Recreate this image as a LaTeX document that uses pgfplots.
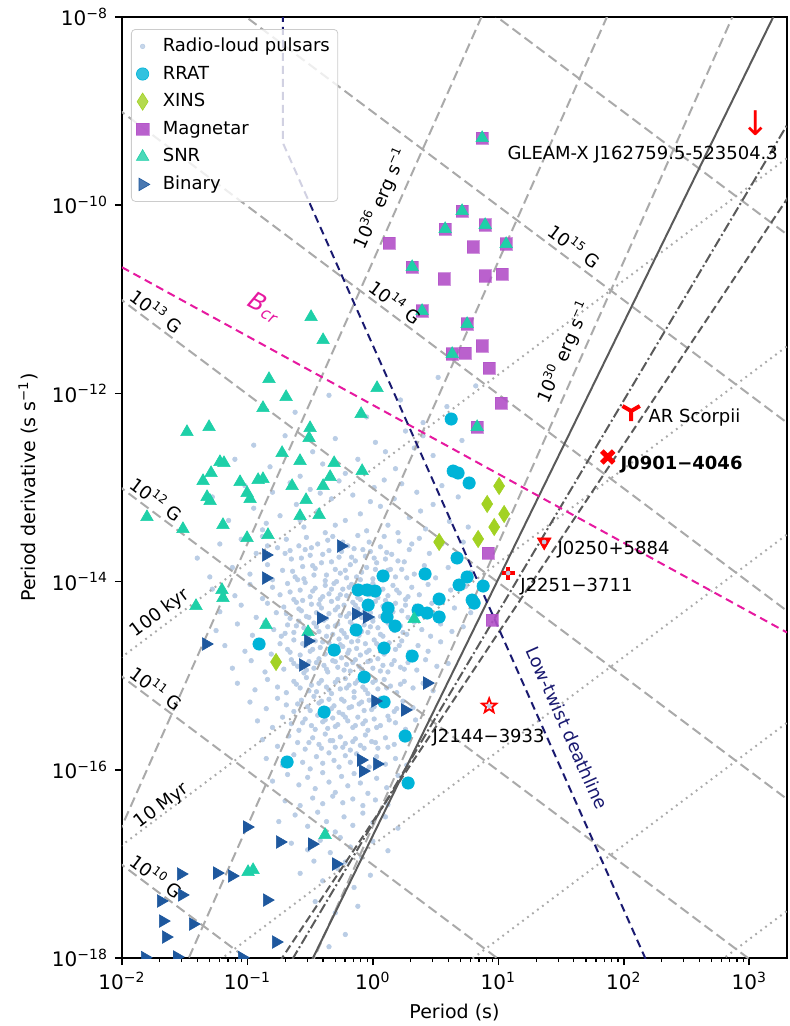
\documentclass[border=0pt]{standalone}
\usepackage{fontspec}
\setmainfont{DejaVu Sans}
\usepackage{pgfplots}
\pgfplotsset{compat=1.18}
\usepackage{pgfplotstable}
\usetikzlibrary{plotmarks,calc}

\definecolor{radio}{RGB}{186,205,229}
\definecolor{rrat}{RGB}{0,180,216}
\definecolor{xins}{RGB}{162,210,35}
\definecolor{magn}{RGB}{178,80,200}
\definecolor{snr}{RGB}{30,208,168}
\definecolor{bin}{RGB}{30,88,158}
\definecolor{lgray}{RGB}{170,170,170}
\definecolor{dgray}{RGB}{90,90,90}
\definecolor{bcr}{RGB}{230,25,160}
\definecolor{twist}{RGB}{25,25,112}
\definecolor{pred}{RGB}{255,0,0}

\pgfdeclareplotmark{star5}{%
  \pgfpathmoveto{\pgfqpointpolar{90}{\pgfplotmarksize}}%
  \pgfpathlineto{\pgfqpointpolar{126}{0.42\pgfplotmarksize}}%
  \pgfpathlineto{\pgfqpointpolar{162}{\pgfplotmarksize}}%
  \pgfpathlineto{\pgfqpointpolar{198}{0.42\pgfplotmarksize}}%
  \pgfpathlineto{\pgfqpointpolar{234}{\pgfplotmarksize}}%
  \pgfpathlineto{\pgfqpointpolar{270}{0.42\pgfplotmarksize}}%
  \pgfpathlineto{\pgfqpointpolar{306}{\pgfplotmarksize}}%
  \pgfpathlineto{\pgfqpointpolar{342}{0.42\pgfplotmarksize}}%
  \pgfpathlineto{\pgfqpointpolar{18}{\pgfplotmarksize}}%
  \pgfpathlineto{\pgfqpointpolar{54}{0.42\pgfplotmarksize}}%
  \pgfpathclose
  \pgfusepathqfillstroke
}

% log10(P)  log10(Pdot)
\pgfplotstableread[row sep=\\]{
lx ly\\
0.52 -11.83\\ 0.82 -11.92\\ 0.59 -12.14\\ 0.22 -12.07\\ 0.26 -12.40\\ -0.35 -12.02\\ -0.05 -12.25\\ 0.40 -12.31\\ -0.62 -12.20\\ 0.05 -11.95\\
-0.95 -12.55\\ -0.70 -12.45\\ -0.48 -12.62\\ -0.30 -12.48\\ -0.12 -12.70\\ 0.02 -12.52\\ 0.18 -12.80\\ 0.33 -12.58\\ 0.48 -12.66\\ 0.62 -12.85\\ -0.82 -12.78\\ -0.58 -12.88\\ -0.22 -12.85\\ 0.10 -12.62\\ 0.71 -12.50\\ -1.10 -12.70\\ 0.40 -12.45\\ -0.40 -12.75\\
-1.28 -13.10\\ -1.15 -13.35\\ -1.02 -12.98\\ -0.95 -13.22\\ -0.88 -13.45\\ -0.80 -13.05\\ -0.74 -13.30\\ -0.66 -12.95\\ -0.61 -13.18\\ -0.55 -13.42\\ -0.50 -13.02\\ -0.44 -13.25\\ -0.38 -13.48\\ -0.33 -13.12\\ -0.27 -12.93\\ -0.22 -13.35\\ -0.16 -13.08\\ -0.10 -13.28\\ -0.05 -13.46\\ 0.01 -13.00\\ 0.06 -13.20\\ 0.12 -13.40\\ 0.17 -13.12\\ 0.23 -12.96\\ 0.29 -13.32\\ 0.35 -13.05\\ 0.42 -13.44\\ 0.48 -13.18\\ 0.55 -12.98\\ 0.61 -13.36\\ 0.68 -13.10\\ 0.76 -13.42\\ -0.58 -13.35\\ -0.30 -13.40\\ -0.02 -13.15\\ 0.20 -13.48\\ -0.85 -13.38\\ -0.42 -13.06\\ 0.09 -12.92\\ 0.38 -13.25\\
-1.40 -13.75\\ -1.30 -13.95\\ -1.22 -13.60\\ -1.12 -13.85\\ -1.05 -13.55\\ -0.98 -13.92\\ -0.93 -13.70\\ -0.88 -13.52\\ -0.84 -13.82\\ -0.80 -13.98\\ -0.76 -13.64\\ -0.72 -13.88\\ -0.69 -13.55\\ -0.65 -13.76\\ -0.62 -13.95\\ -0.59 -13.62\\ -0.56 -13.84\\ -0.53 -13.53\\ -0.50 -13.72\\ -0.47 -13.93\\ -0.44 -13.60\\ -0.41 -13.80\\ -0.38 -13.99\\ -0.35 -13.67\\ -0.32 -13.52\\ -0.30 -13.87\\ -0.27 -13.74\\ -0.24 -13.58\\ -0.21 -13.96\\ -0.18 -13.82\\ -0.15 -13.65\\ -0.12 -13.51\\ -0.09 -13.90\\ -0.06 -13.73\\ -0.03 -13.58\\ 0.00 -13.97\\ 0.03 -13.80\\ 0.06 -13.63\\ 0.09 -13.52\\ 0.12 -13.88\\ 0.15 -13.71\\ 0.18 -13.95\\ 0.21 -13.57\\ 0.25 -13.79\\ 0.29 -13.66\\ 0.33 -13.92\\ 0.37 -13.54\\ 0.41 -13.83\\ 0.45 -13.70\\ 0.50 -13.96\\ 0.55 -13.60\\ 0.60 -13.85\\ 0.66 -13.73\\ 0.72 -13.58\\ 0.78 -13.90\\ -0.70 -13.70\\ -0.48 -13.83\\ -0.36 -13.56\\ -0.26 -13.91\\ -0.14 -13.78\\ -0.02 -13.68\\ 0.10 -13.76\\ 0.23 -13.87\\ -0.60 -13.98\\ -0.84 -13.62\\ -0.54 -13.66\\ -0.20 -13.62\\ 0.02 -13.87\\ 0.31 -13.60\\ -0.10 -13.98\\
-1.28 -14.08\\ -1.10 -14.15\\ -0.98 -14.03\\ -0.88 -14.18\\ -0.80 -14.06\\ -0.74 -14.14\\ -0.68 -14.02\\ -0.63 -14.19\\ -0.58 -14.09\\ -0.54 -14.01\\ -0.50 -14.16\\ -0.46 -14.07\\ -0.42 -14.19\\ -0.38 -14.04\\ -0.35 -14.13\\ -0.31 -14.02\\ -0.28 -14.18\\ -0.24 -14.08\\ -0.21 -14.15\\ -0.17 -14.03\\ -0.14 -14.11\\ -0.10 -14.19\\ -0.07 -14.05\\ -0.03 -14.14\\ 0.00 -14.02\\ 0.04 -14.17\\ 0.08 -14.08\\ 0.12 -14.15\\ 0.16 -14.04\\ 0.21 -14.12\\ 0.26 -14.19\\ 0.31 -14.06\\ 0.37 -14.14\\ 0.44 -14.03\\ 0.52 -14.17\\ 0.62 -14.09\\ 0.74 -14.05\\
-1.22 -14.32\\ -1.05 -14.25\\ -0.93 -14.38\\ -0.84 -14.23\\ -0.77 -14.33\\ -0.71 -14.27\\ -0.66 -14.39\\ -0.61 -14.22\\ -0.57 -14.31\\ -0.53 -14.37\\ -0.49 -14.24\\ -0.45 -14.33\\ -0.41 -14.28\\ -0.37 -14.39\\ -0.33 -14.21\\ -0.30 -14.30\\ -0.26 -14.36\\ -0.23 -14.25\\ -0.19 -14.34\\ -0.16 -14.22\\ -0.12 -14.29\\ -0.09 -14.38\\ -0.05 -14.26\\ -0.02 -14.33\\ 0.02 -14.21\\ 0.06 -14.37\\ 0.10 -14.28\\ 0.14 -14.35\\ 0.18 -14.23\\ 0.23 -14.31\\ 0.28 -14.38\\ 0.34 -14.26\\ 0.40 -14.34\\ 0.47 -14.23\\ 0.55 -14.36\\ 0.65 -14.28\\ 0.78 -14.33\\
-1.25 -14.52\\ -1.08 -14.45\\ -0.96 -14.57\\ -0.86 -14.43\\ -0.79 -14.51\\ -0.73 -14.58\\ -0.68 -14.46\\ -0.63 -14.54\\ -0.59 -14.42\\ -0.55 -14.49\\ -0.51 -14.57\\ -0.47 -14.44\\ -0.43 -14.53\\ -0.39 -14.41\\ -0.36 -14.48\\ -0.32 -14.56\\ -0.28 -14.45\\ -0.25 -14.52\\ -0.21 -14.59\\ -0.18 -14.43\\ -0.14 -14.50\\ -0.11 -14.57\\ -0.07 -14.46\\ -0.04 -14.54\\ 0.00 -14.42\\ 0.04 -14.49\\ 0.08 -14.58\\ 0.12 -14.44\\ 0.17 -14.52\\ 0.22 -14.47\\ 0.27 -14.56\\ 0.33 -14.43\\ 0.39 -14.51\\ 0.46 -14.58\\ 0.54 -14.45\\ 0.63 -14.53\\ 0.72 -14.48\\
-1.18 -14.68\\ -1.02 -14.74\\ -0.90 -14.63\\ -0.81 -14.77\\ -0.74 -14.66\\ -0.68 -14.72\\ -0.63 -14.62\\ -0.58 -14.78\\ -0.54 -14.68\\ -0.50 -14.74\\ -0.46 -14.63\\ -0.42 -14.70\\ -0.38 -14.77\\ -0.35 -14.65\\ -0.31 -14.73\\ -0.27 -14.61\\ -0.24 -14.69\\ -0.20 -14.76\\ -0.17 -14.64\\ -0.13 -14.71\\ -0.10 -14.78\\ -0.06 -14.66\\ -0.03 -14.73\\ 0.01 -14.62\\ 0.05 -14.69\\ 0.09 -14.77\\ 0.13 -14.65\\ 0.18 -14.72\\ 0.23 -14.63\\ 0.29 -14.75\\ 0.36 -14.68\\ 0.44 -14.74\\ 0.54 -14.64\\
-1.12 -14.92\\ -0.97 -14.84\\ -0.86 -14.96\\ -0.78 -14.86\\ -0.71 -14.93\\ -0.65 -14.83\\ -0.60 -14.90\\ -0.55 -14.97\\ -0.51 -14.85\\ -0.47 -14.92\\ -0.43 -14.82\\ -0.39 -14.89\\ -0.36 -14.96\\ -0.32 -14.84\\ -0.28 -14.91\\ -0.25 -14.81\\ -0.21 -14.88\\ -0.18 -14.95\\ -0.14 -14.83\\ -0.11 -14.90\\ -0.07 -14.97\\ -0.04 -14.85\\ 0.00 -14.92\\ 0.04 -14.82\\ 0.08 -14.89\\ 0.12 -14.96\\ 0.17 -14.84\\ 0.22 -14.91\\ 0.28 -14.86\\ 0.35 -14.94\\ 0.42 -14.83\\ 0.51 -14.90\\ 0.60 -14.87\\
-1.08 -15.08\\ -0.94 -15.15\\ -0.84 -15.04\\ -0.76 -15.12\\ -0.69 -15.18\\ -0.63 -15.06\\ -0.58 -15.13\\ -0.53 -15.02\\ -0.49 -15.10\\ -0.45 -15.17\\ -0.41 -15.05\\ -0.37 -15.12\\ -0.33 -15.19\\ -0.30 -15.07\\ -0.26 -15.14\\ -0.22 -15.03\\ -0.19 -15.10\\ -0.15 -15.17\\ -0.12 -15.05\\ -0.08 -15.12\\ -0.04 -15.19\\ 0.00 -15.07\\ 0.04 -15.14\\ 0.09 -15.04\\ 0.14 -15.11\\ 0.19 -15.18\\ 0.25 -15.06\\ 0.32 -15.13\\ 0.40 -15.08\\ 0.48 -15.16\\
-0.98 -15.28\\ -0.85 -15.35\\ -0.76 -15.24\\ -0.69 -15.31\\ -0.63 -15.38\\ -0.57 -15.26\\ -0.52 -15.33\\ -0.47 -15.22\\ -0.43 -15.29\\ -0.39 -15.36\\ -0.35 -15.25\\ -0.31 -15.32\\ -0.27 -15.39\\ -0.23 -15.27\\ -0.19 -15.34\\ -0.15 -15.23\\ -0.11 -15.30\\ -0.07 -15.37\\ -0.03 -15.26\\ 0.01 -15.33\\ 0.06 -15.24\\ 0.11 -15.31\\ 0.17 -15.38\\ 0.24 -15.27\\ 0.32 -15.34\\
-0.92 -15.48\\ -0.80 -15.55\\ -0.72 -15.44\\ -0.65 -15.51\\ -0.59 -15.58\\ -0.54 -15.46\\ -0.49 -15.53\\ -0.44 -15.42\\ -0.40 -15.49\\ -0.36 -15.56\\ -0.32 -15.45\\ -0.28 -15.52\\ -0.24 -15.41\\ -0.20 -15.48\\ -0.16 -15.55\\ -0.12 -15.44\\ -0.08 -15.51\\ -0.04 -15.58\\ 0.01 -15.46\\ 0.06 -15.53\\ 0.12 -15.43\\ 0.18 -15.50\\ 0.26 -15.57\\ 0.34 -15.47\\
-0.88 -15.68\\ -0.76 -15.75\\ -0.67 -15.64\\ -0.60 -15.71\\ -0.54 -15.78\\ -0.48 -15.66\\ -0.43 -15.73\\ -0.38 -15.62\\ -0.34 -15.69\\ -0.30 -15.76\\ -0.26 -15.65\\ -0.22 -15.72\\ -0.18 -15.79\\ -0.14 -15.67\\ -0.10 -15.74\\ -0.06 -15.63\\ -0.01 -15.70\\ 0.04 -15.77\\ 0.10 -15.66\\ 0.17 -15.73\\ 0.25 -15.68\\
-0.85 -15.88\\ -0.72 -15.95\\ -0.63 -15.84\\ -0.56 -15.92\\ -0.50 -15.99\\ -0.45 -15.86\\ -0.40 -15.93\\ -0.35 -15.82\\ -0.31 -15.90\\ -0.27 -15.97\\ -0.22 -15.85\\ -0.18 -15.92\\ -0.13 -15.83\\ -0.08 -15.90\\ -0.03 -15.97\\ 0.03 -15.86\\ 0.10 -15.94\\ 0.18 -15.88\\ 0.27 -15.95\\
-0.80 -16.12\\ -0.68 -16.05\\ -0.59 -16.16\\ -0.52 -16.08\\ -0.46 -16.20\\ -0.40 -16.03\\ -0.35 -16.13\\ -0.30 -16.24\\ -0.25 -16.07\\ -0.20 -16.17\\ -0.15 -16.04\\ -0.10 -16.14\\ -0.04 -16.25\\ 0.03 -16.09\\ 0.11 -16.19\\ 0.20 -16.06\\
-0.70 -16.33\\ -0.58 -16.38\\ -0.48 -16.30\\ -0.40 -16.36\\ -0.32 -16.28\\ -0.24 -16.35\\ -0.16 -16.31\\ -0.08 -16.38\\ 0.02 -16.32\\ 0.12 -16.37\\
-0.75 -16.55\\ -0.62 -16.48\\ -0.52 -16.60\\ -0.44 -16.45\\ -0.37 -16.55\\ -0.30 -16.66\\ -0.23 -16.50\\ -0.16 -16.59\\ -0.08 -16.46\\ 0.00 -16.56\\ 0.10 -16.50\\ 0.20 -16.62\\
-0.65 -16.78\\ -0.52 -16.85\\ -0.42 -16.75\\ -0.34 -16.88\\ -0.26 -16.72\\ -0.18 -16.82\\ -0.09 -16.93\\ 0.00 -16.76\\ 0.12 -16.86\\ -0.47 -16.97\\ -0.22 -16.98\\
-0.58 -17.10\\ -0.40 -17.18\\ -0.28 -17.05\\ -0.15 -17.25\\ -0.02 -17.12\\ -0.46 -17.40\\ -0.30 -17.52\\ -0.12 -17.45\\ -0.22 -17.75\\ -0.35 -17.88\\
-0.66 -13.67\\ -0.57 -13.75\\ -0.49 -13.64\\ -0.40 -13.71\\ -0.33 -13.79\\ -0.25 -13.68\\ -0.17 -13.74\\ -0.08 -13.66\\ 0.01 -13.75\\ 0.11 -13.69\\ 0.20 -13.78\\
-0.64 -13.89\\ -0.55 -13.97\\ -0.46 -13.86\\ -0.37 -13.93\\ -0.29 -14.00\\ -0.22 -13.88\\ -0.13 -13.95\\ -0.05 -13.85\\ 0.05 -13.94\\ 0.14 -13.87\\ 0.27 -13.96\\
-0.66 -14.11\\ -0.56 -14.20\\ -0.48 -14.10\\ -0.40 -14.16\\ -0.33 -14.08\\ -0.26 -14.14\\ -0.19 -14.06\\ -0.12 -14.17\\ -0.05 -14.09\\ 0.02 -14.12\\ 0.10 -14.20\\ 0.19 -14.09\\ 0.28 -14.16\\
-0.69 -14.34\\ -0.59 -14.29\\ -0.51 -14.38\\ -0.43 -14.24\\ -0.35 -14.34\\ -0.28 -14.27\\ -0.21 -14.37\\ -0.14 -14.25\\ -0.07 -14.32\\ 0.00 -14.39\\ 0.08 -14.26\\ 0.16 -14.32\\ 0.26 -14.25\\
-0.70 -14.55\\ -0.61 -14.47\\ -0.53 -14.54\\ -0.45 -14.48\\ -0.37 -14.58\\ -0.30 -14.47\\ -0.23 -14.55\\ -0.16 -14.46\\ -0.09 -14.53\\ -0.02 -14.48\\ 0.06 -14.56\\ 0.14 -14.47\\ 0.24 -14.54\\
-0.66 -14.75\\ -0.56 -14.66\\ -0.48 -14.72\\ -0.40 -14.64\\ -0.33 -14.76\\ -0.26 -14.67\\ -0.19 -14.73\\ -0.12 -14.63\\ -0.05 -14.75\\ 0.03 -14.66\\ 0.11 -14.73\\ 0.21 -14.68\\
-0.63 -14.87\\ -0.53 -14.94\\ -0.45 -14.86\\ -0.37 -14.93\\ -0.30 -14.85\\ -0.23 -14.94\\ -0.16 -14.86\\ -0.09 -14.93\\ -0.02 -14.84\\ 0.06 -14.95\\ 0.15 -14.88\\ 0.25 -14.93\\
-0.61 -15.09\\ -0.51 -15.16\\ -0.43 -15.08\\ -0.35 -15.15\\ -0.28 -15.04\\ -0.21 -15.13\\ -0.14 -15.08\\ -0.06 -15.15\\ 0.02 -15.05\\ 0.11 -15.13\\ 0.22 -15.09\\
-0.60 -15.30\\ -0.50 -15.37\\ -0.41 -15.27\\ -0.33 -15.35\\ -0.25 -15.25\\ -0.17 -15.33\\ -0.09 -15.28\\ -0.01 -15.36\\ 0.08 -15.29\\ 0.19 -15.35\\
-0.56 -15.50\\ -0.46 -15.57\\ -0.38 -15.47\\ -0.30 -15.54\\ -0.22 -15.44\\ -0.14 -15.53\\ -0.06 -15.48\\ 0.03 -15.55\\ 0.13 -15.47\\
-0.51 -15.71\\ -0.41 -15.77\\ -0.32 -15.69\\ -0.24 -15.76\\ -0.16 -15.70\\ -0.07 -15.77\\ 0.02 -15.71\\ 0.12 -15.76\\
}\radiotab

\pgfplotstableread[row sep=\\]{
lx ly\\
0.624 -12.272\\ 0.640 -12.825\\ 0.679 -12.846\\ 0.767 -12.952\\ 0.671 -13.749\\ 0.416 -13.919\\ 0.751 -13.951\\ 0.687 -14.036\\ 0.879 -14.047\\ -0.118 -14.089\\ -0.046 -14.089\\ 0.018 -14.100\\ 0.081 -13.940\\ -0.038 -14.249\\ 0.121 -14.281\\ 0.113 -14.376\\ 0.360 -14.302\\ 0.432 -14.334\\ 0.528 -14.185\\ 0.528 -14.376\\ 0.791 -14.196\\ 0.807 -14.228\\ 0.177 -14.472\\ -0.134 -14.514\\ -0.907 -14.663\\ -0.309 -14.727\\ 0.089 -14.706\\ 0.313 -14.791\\ -0.070 -15.014\\ 0.089 -15.279\\ -0.389 -15.386\\ 0.257 -15.641\\ -0.684 -15.917\\ 0.281 -16.140\\
}\rrattab

\pgfplotstableread[row sep=\\]{
lx ly\\
1.006 -12.984\\ 0.911 -13.175\\ 1.046 -13.282\\ 0.967 -13.420\\ 0.839 -13.547\\ 0.528 -13.579\\ -0.772 -14.854\\
}\xinstab

\pgfplotstableread[row sep=\\]{
lx ly\\
0.871 -9.286\\ 0.711 -10.062\\ 0.576 -10.253\\ 0.895 -10.210\\ 1.062 -10.412\\ 0.129 -10.402\\ 0.799 -10.444\\ 0.313 -10.657\\ 0.568 -10.784\\ 0.895 -10.752\\ 1.030 -10.731\\ 0.392 -11.124\\ 0.751 -11.262\\ 0.871 -11.496\\ 0.735 -11.571\\ 0.632 -11.581\\ 0.927 -11.730\\ 1.022 -12.102\\ 0.831 -12.357\\ 0.919 -13.696\\ 0.951 -14.408\\
}\magtab

\pgfplotstableread[row sep=\\]{
lx ly\\
-0.493 -11.188\\ -0.397 -11.433\\ -0.828 -11.847\\ -0.692 -12.038\\ 0.033 -11.943\\ -0.876 -12.155\\ -0.094 -12.219\\ -1.482 -12.410\\ -1.306 -12.357\\ -0.501 -12.368\\ -0.509 -12.474\\ -0.724 -12.633\\ -0.581 -12.718\\ -1.219 -12.729\\ -1.187 -12.740\\ -0.309 -12.740\\ -0.086 -12.825\\ -1.290 -12.846\\ -1.354 -12.931\\ -1.059 -12.942\\ -0.915 -12.920\\ -0.876 -12.910\\ -0.341 -12.888\\ -0.644 -12.984\\ -0.397 -12.984\\ -1.003 -13.058\\ -1.322 -13.101\\ -1.298 -13.143\\ -0.979 -13.122\\ -0.533 -13.133\\ -0.581 -13.303\\ -0.429 -13.292\\ -1.801 -13.314\\ -1.514 -13.441\\ -1.195 -13.398\\ -1.003 -13.537\\ -0.836 -13.505\\ -1.203 -14.089\\ -1.195 -14.174\\ -1.410 -14.259\\ -0.852 -14.461\\ -0.517 -14.536\\ 0.329 -14.397\\ -0.381 -16.693\\ -0.995 -17.086\\ -0.955 -17.065\\
0.871 -9.286\\ 0.711 -10.062\\ 0.576 -10.253\\ 0.895 -10.210\\ 1.062 -10.412\\ 0.313 -10.657\\ 0.392 -11.124\\ 0.751 -11.262\\ 0.632 -11.581\\ 0.831 -12.357\\
}\snrtab

\pgfplotstableread[row sep=\\]{
lx ly\\
-0.852 -13.717\\ -0.254 -13.622\\ -0.852 -13.962\\ -1.330 -14.663\\ -0.413 -14.387\\ -0.134 -14.344\\ -0.046 -14.376\\ -0.517 -14.631\\ -0.557 -14.886\\ 0.432 -15.078\\ 0.018 -15.269\\ 0.257 -15.364\\ -0.094 -15.896\\ 0.033 -15.938\\ -0.078 -16.013\\ -1.003 -16.608\\ -0.740 -16.767\\ -0.485 -16.789\\ -0.293 -17.001\\ -1.530 -17.107\\ -1.242 -17.097\\ -1.123 -17.128\\ -0.844 -17.384\\ -1.689 -17.394\\ -1.522 -17.330\\ -1.673 -17.607\\ -1.434 -17.639\\ -1.649 -17.777\\ -0.772 -17.830\\ -1.561 -17.989\\ -1.043 -17.995\\ -1.817 -17.995\\
}\bintab

\pgfplotstableread[row sep=\\]{
lx ly\\
1.365 -13.579\\ 1.078 -13.909\\ 0.927 -15.322\\
}\overtab

\pgfplotsset{
  bline/.style={color=lgray, line width=1pt, dash pattern=on 5pt off 2.5pt, forget plot},
  aline/.style={color=lgray, line width=1pt, dash pattern=on 0.9pt off 2.2pt, forget plot},
  table/logtab/.style={x expr={10^(\thisrow{lx})}, y expr={10^(\thisrow{ly})}},
}
\tikzset{lbl/.style={font=\fontsize{9}{10}\selectfont, inner sep=0pt}}

\begin{document}
\begin{tikzpicture}
\begin{axis}[
  xmode=log, ymode=log,
  scale only axis, width=332.5pt, height=470.5pt,
  xmin=1e-2, xmax=2e3, ymin=1e-18, ymax=1e-8,
  xtick={1e-2,1e-1,1,10,100,1000},
  xticklabels={10\textsuperscript{−2},10\textsuperscript{−1},10\textsuperscript{0},10\textsuperscript{1},10\textsuperscript{2},10\textsuperscript{3}},
  minor xtick={2e-2,3e-2,4e-2,5e-2,6e-2,7e-2,8e-2,9e-2,0.2,0.3,0.4,0.5,0.6,0.7,0.8,0.9,2,3,4,5,6,7,8,9,20,30,40,50,60,70,80,90,200,300,400,500,600,700,800,900},
  ytick={1e-18,1e-16,1e-14,1e-12,1e-10,1e-8},
  yticklabels={10\textsuperscript{−18},10\textsuperscript{−16},10\textsuperscript{−14},10\textsuperscript{−12},10\textsuperscript{−10},10\textsuperscript{−8}},
  minor ytick={},
  tick pos=left, tick align=outside,
  major tick length=3.5pt, minor tick length=2pt,
  every tick/.style={black, line width=0.75pt},
  every minor tick/.style={black, line width=0.6pt},
  axis line style={line width=1.25pt},
  ticklabel style={font=\fontsize{10}{12}\selectfont},
  label style={font=\fontsize{9.5}{11}\selectfont},
  xlabel={Period (s)},
  ylabel={Period derivative (s s\textsuperscript{−1})},
  clip marker paths=true,
  legend cell align=left,
  legend style={at={(0,1)}, anchor=north west, xshift=4.5pt, yshift=-6pt,
    draw={rgb,255:red,204;green,204;blue,204}, rounded corners=2pt,
    fill=white, fill opacity=0.8, text opacity=1, inner sep=2.5pt,
    column sep=5pt, row sep=1.8pt,
    font=\fontsize{9}{10}\selectfont,
    nodes={inner sep=1.5pt, text height=7pt, text depth=2pt}},
]
% radio-loud pulsars
\addplot[only marks, color=radio, mark=*, mark size=1.15pt, mark options={line width=0.3pt}] table[logtab] {\radiotab};
\addlegendentry{Radio-loud pulsars}

% B lines (B = 3.2e19 sqrt(P Pdot))
\addplot[bline] coordinates {(1e-3,9.766e-17) (1e4,9.766e-24)};
\addplot[bline] coordinates {(1e-3,9.766e-15) (1e4,9.766e-22)};
\addplot[bline] coordinates {(1e-3,9.766e-13) (1e4,9.766e-20)};
\addplot[bline] coordinates {(1e-3,9.766e-11) (1e4,9.766e-18)};
\addplot[bline] coordinates {(1e-3,9.766e-9) (1e4,9.766e-16)};
\addplot[bline] coordinates {(1e-3,9.766e-7) (1e4,9.766e-14)};
\addplot[bline] coordinates {(1e-3,9.766e-5) (1e4,9.766e-12)};
% Edot lines
\addplot[bline] coordinates {(1e-2,2.533e-23) (3000,6.84e-7)};
\addplot[bline] coordinates {(1e-2,2.533e-20) (3000,6.84e-4)};
\addplot[bline] coordinates {(1e-3,2.533e-20) (100,2.533e-5)};
% age lines
\addplot[aline] coordinates {(1e-3,1.584e-16) (1e4,1.584e-9)};
\addplot[aline] coordinates {(1e-3,1.584e-18) (1e4,1.584e-11)};
\addplot[aline] coordinates {(1e-3,1.584e-20) (1e4,1.584e-13)};
\addplot[aline] coordinates {(1e-3,1.584e-22) (1e4,1.584e-15)};
\addplot[aline] coordinates {(1e-3,1.584e-24) (1e4,1.584e-17)};
% death lines
\addplot[dgray, line width=1pt, forget plot] coordinates {(0.143,1e-19) (3614,1e-7)};
\addplot[dgray, line width=1pt, dash pattern=on 5pt off 1.5pt on 1pt off 1.5pt, forget plot] coordinates {(0.083,1e-19) (18070,1e-7)};
\addplot[dgray, line width=1pt, dash pattern=on 4pt off 2pt, forget plot] coordinates {(0.0598,1e-19) (58210,1e-7)};
% B_cr
\addplot[bcr, line width=1pt, dash pattern=on 4pt off 2.5pt, forget plot] coordinates {(0.01,2.19e-11) (2000,2.88e-15)};
% low-twist deathline
\addplot[twist, line width=1pt, dash pattern=on 4pt off 2.5pt, forget plot] coordinates {(0.192,1e-7) (0.192,4.57e-10) (319,1e-19)};

% populations
\addplot[only marks, color=rrat, mark=*, mark size=3.1pt, mark options={line width=0.3pt}] table[logtab] {\rrattab};
\addlegendentry{RRAT}
\addplot[only marks, color=xins, mark=diamond*, mark size=4.3pt, mark options={line width=0.3pt, xscale=0.85}] table[logtab] {\xinstab};
\addlegendentry{XINS}
\addplot[only marks, color=magn, mark=square*, mark size=3.1pt, mark options={line width=0.3pt, fill opacity=0.9, draw opacity=0.6}] table[logtab] {\magtab};
\addlegendentry{Magnetar}
\addplot[only marks, color=snr, mark=triangle*, mark size=3.6pt, mark options={line width=0.3pt}] table[logtab] {\snrtab};
\addlegendentry{SNR}
\addplot[only marks, color=bin, mark=triangle*, mark size=3.6pt, mark options={line width=0.3pt, rotate=-90}] table[logtab] {\bintab};
\addlegendentry{Binary}

% special objects
\addplot[only marks, color=pred, mark=text, text mark={\fontsize{17}{17}\selectfont ↓}, text mark as node=true, forget plot] coordinates {(1117,7.48e-10)};
\addplot[only marks, color=pred, mark=Mercedes star flipped, mark size=5pt, mark options={line width=2pt}, forget plot] coordinates {(114.5,6.5e-13)};
\addplot[only marks, color=pred, mark=x, mark size=4.2pt, mark options={line width=2.5pt}, forget plot] coordinates {(74.5,2.11e-13)};
\addplot[only marks, color=pred, mark=triangle*, mark size=4pt, mark options={rotate=180, line width=0.3pt}, forget plot] coordinates {(23.2,2.64e-14)};
\addplot[only marks, color=pred, mark=+, mark size=3.2pt, mark options={line width=2.2pt}, forget plot] coordinates {(11.97,1.23e-14)};
\addplot[only marks, color=pred, mark=star5, mark size=3.8pt, mark options={fill=white, line width=0.9pt}, forget plot] coordinates {(8.45,4.77e-16)};
\addplot[only marks, color=radio, mark=*, mark size=1.0pt, mark options={line width=0.3pt}, forget plot] table[logtab] {\overtab};

% line labels
\node[lbl, rotate=-36.9] at (axis cs:0.019,7.5e-12) {10\textsuperscript{13} G};
\node[lbl, rotate=-36.9] at (axis cs:0.019,7.55e-14) {10\textsuperscript{12} G};
\node[lbl, rotate=-36.9] at (axis cs:0.019,7.4e-16) {10\textsuperscript{11} G};
\node[lbl, rotate=-36.9] at (axis cs:0.019,7.43e-18) {10\textsuperscript{10} G};
\node[lbl, rotate=-36.9] at (axis cs:1.53,9.35e-12) {10\textsuperscript{14} G};
\node[lbl, rotate=-36.9] at (axis cs:40.9,3.68e-11) {10\textsuperscript{15} G};
\node[lbl, rotate=36.9] at (axis cs:0.0201,4.63e-15) {100 kyr};
\node[lbl, rotate=36.9] at (axis cs:0.0208,4.12e-17) {10 Myr};
\node[lbl, rotate=66.05] at (axis cs:1.16,1.19e-10) {10\textsuperscript{36} erg s\textsuperscript{−1}};
\node[lbl, rotate=66.05] at (axis cs:33.5,2.75e-12) {10\textsuperscript{30} erg s\textsuperscript{−1}};
\node[inner sep=0pt, text=bcr, font=\fontsize{12}{14}\selectfont, rotate=-28.8] at (axis cs:0.138,8.1e-12) {\textit{B}\textsubscript{\textit{cr}}};
\node[lbl, text=twist, rotate=-66.05] at (axis cs:35.4,2.78e-16) {Low-twist deathline};
% object labels
\node[lbl, anchor=west] at (axis cs:11.75,3.41e-10) {GLEAM-X J162759.5-523504.3};
\node[lbl, anchor=west] at (axis cs:156.7,5.48e-13) {AR Scorpii};
\node[lbl, anchor=west, font=\fontsize{9}{10}\selectfont\bfseries] at (axis cs:93.5,1.73e-13) {J0901−4046};
\node[lbl, anchor=west] at (axis cs:29.4,2.17e-14) {J0250+5884};
\node[lbl, anchor=west] at (axis cs:14.9,8.77e-15) {J2251−3711};
\node[lbl, anchor=west] at (axis cs:2.97,2.18e-16) {J2144−3933};

\coordinate (SW) at (rel axis cs:0,0);
\coordinate (NE) at (rel axis cs:1,1);
\end{axis}
\pgfresetboundingbox
\path[use as bounding box] ($(SW)+(-61pt,-34pt)$) rectangle ($(NE)+(1.5pt,8.5pt)$);
\end{tikzpicture}
\end{document}
